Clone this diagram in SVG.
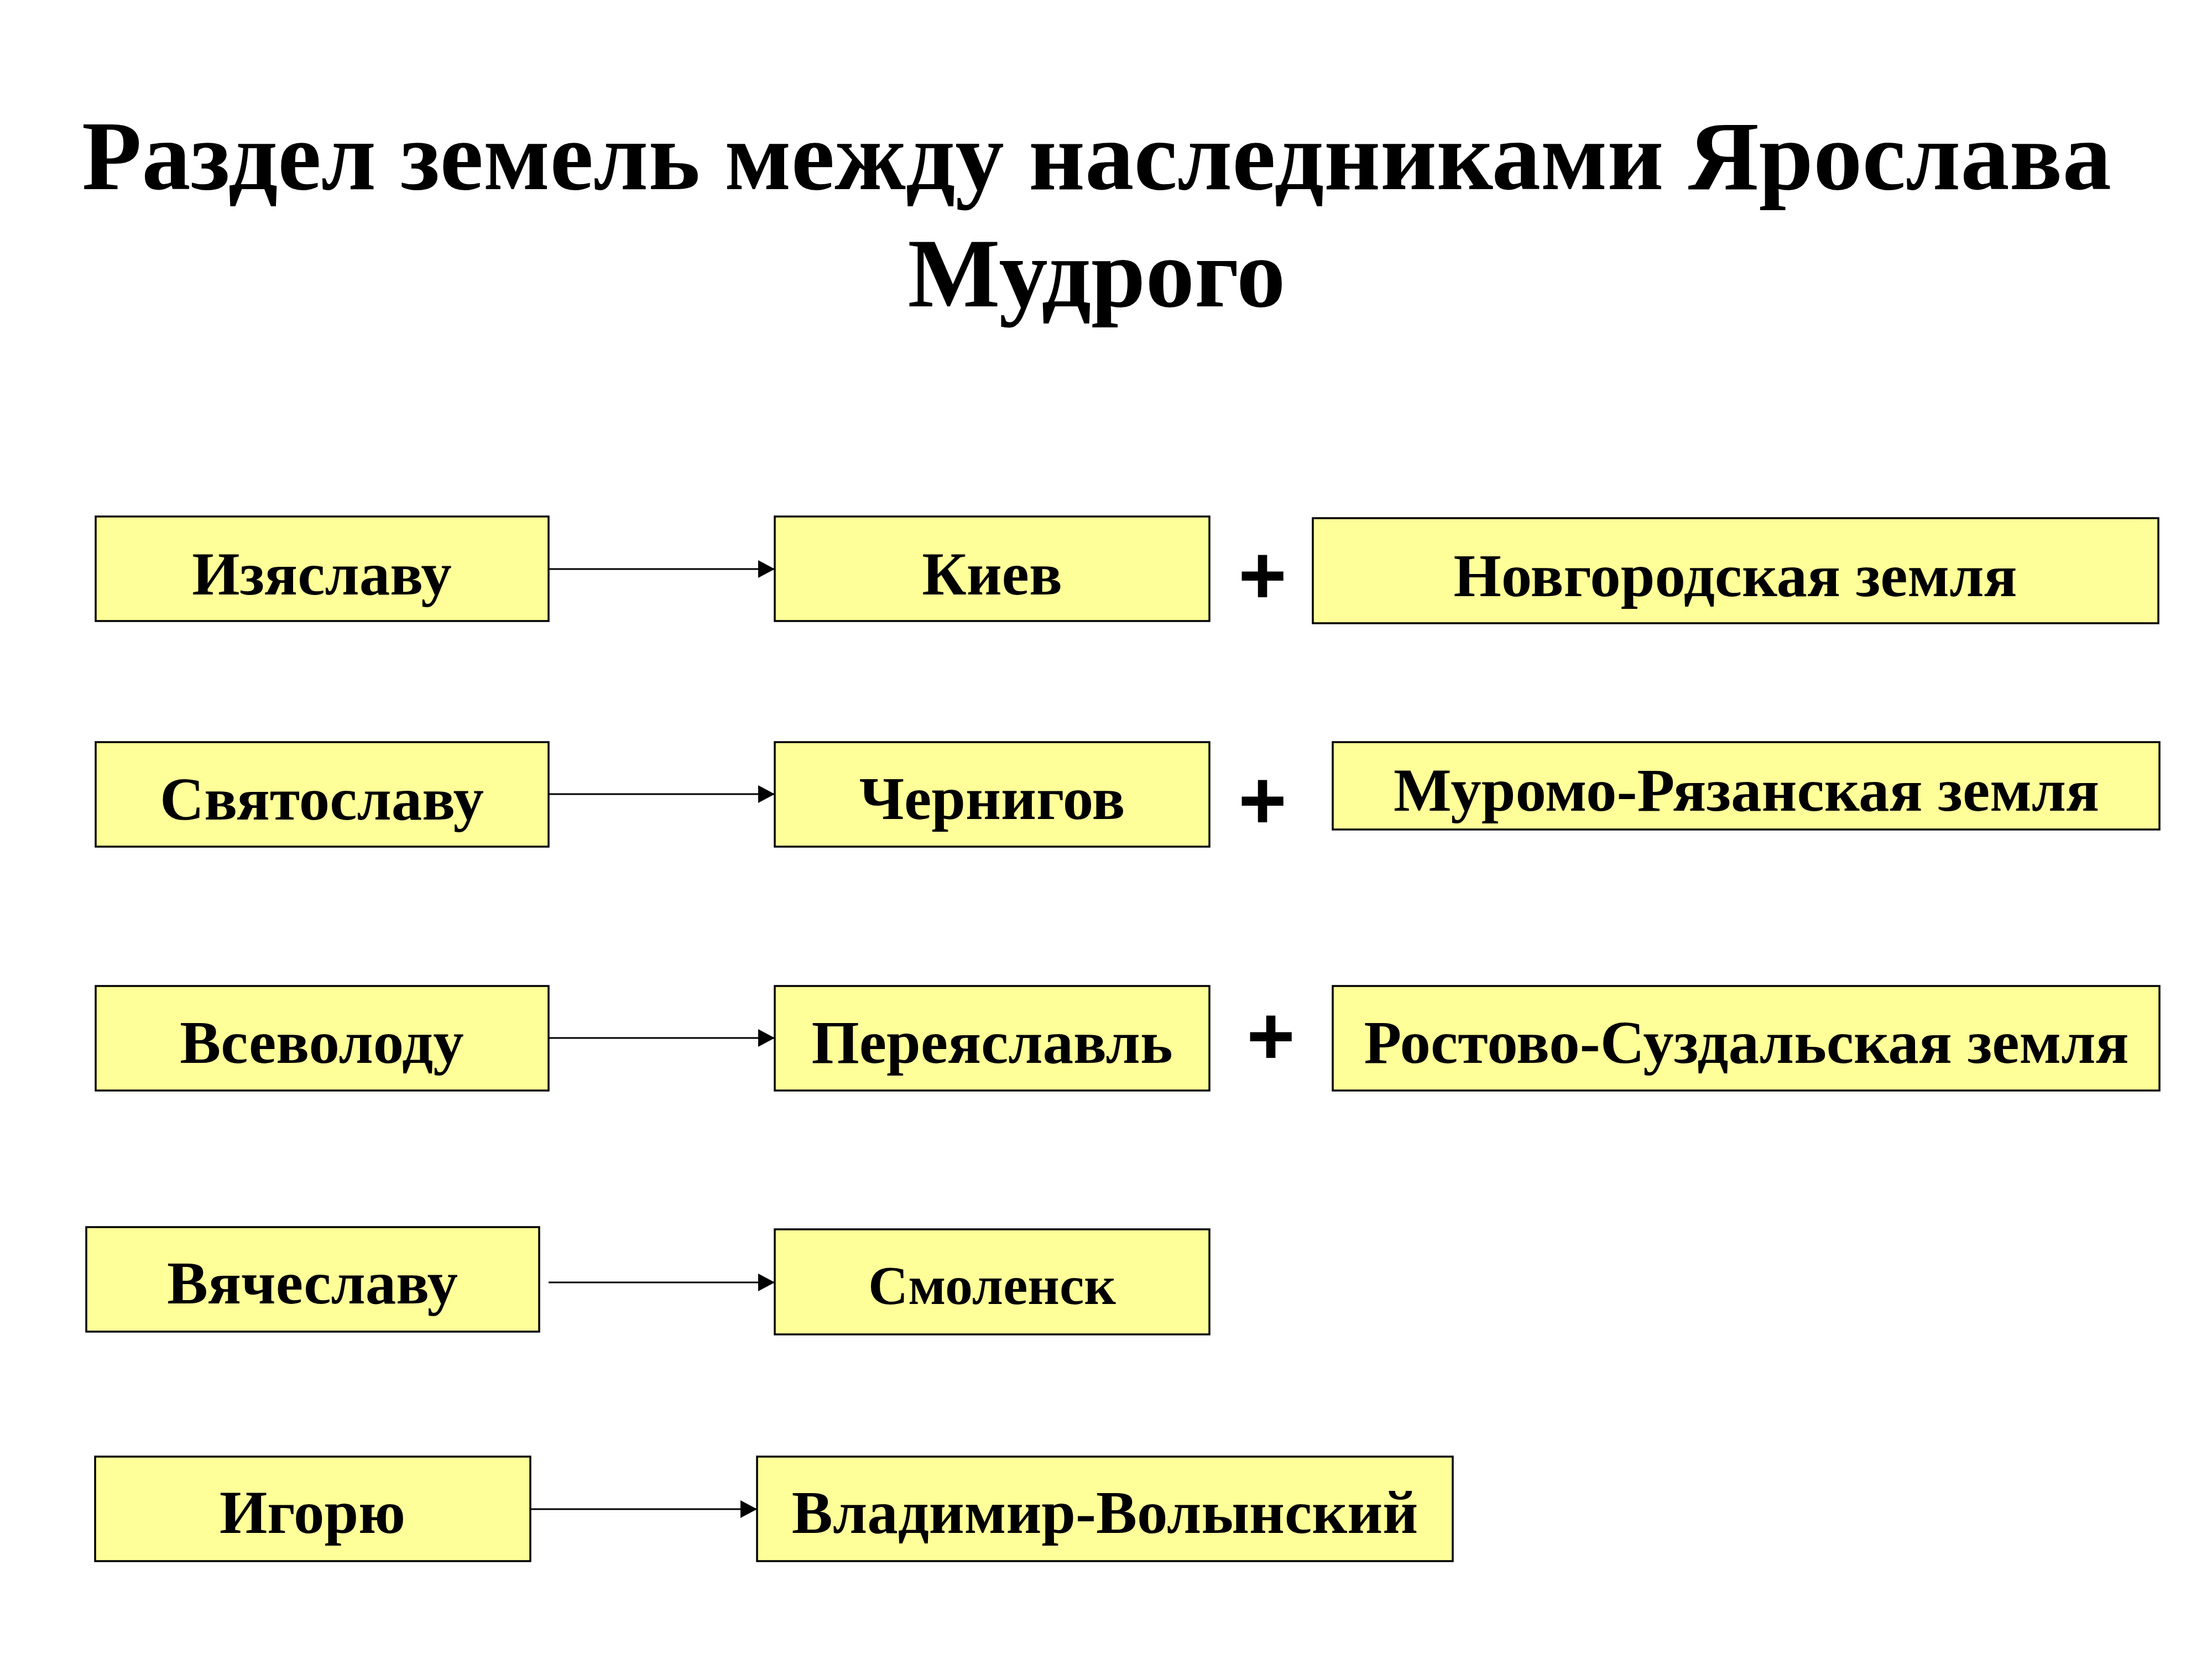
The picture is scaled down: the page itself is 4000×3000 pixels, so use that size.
<svg xmlns="http://www.w3.org/2000/svg" width="4000" height="3000" viewBox="0 0 4000 3000">
<style>
.box{fill:#FFFF99;stroke:#000;stroke-width:3.5}
.t{font-family:"Liberation Serif","Times New Roman",serif;font-weight:bold;font-size:111px;text-anchor:middle;fill:#000}
.title{font-family:"Liberation Serif","Times New Roman",serif;font-weight:bold;font-size:177px;text-anchor:middle;fill:#000}
.plus{font-family:"Liberation Sans",Arial,sans-serif;font-weight:bold;font-size:150px;text-anchor:middle;fill:#000}
.c{stroke:#000;stroke-width:3;fill:none;marker-end:url(#ah)}
</style>
<defs>
<marker id="ah" markerUnits="userSpaceOnUse" markerWidth="32" markerHeight="32" refX="30" refY="16" orient="auto">
<path d="M0,0 L30,16 L0,32 Z" fill="#000"/>
</marker>
</defs>
<rect width="4000" height="3000" fill="#fff"/>
<g id="title">
<text class="title" x="1983" y="342">Раздел земель между наследниками Ярослава</text>
<text class="title" x="1983" y="554">Мудрого</text>
</g>
<g id="connectors">
<line class="c" x1="992" y1="1029" x2="1401" y2="1029"/>
<line class="c" x1="992" y1="1436" x2="1401" y2="1436"/>
<line class="c" x1="992" y1="1877" x2="1401" y2="1877"/>
<line class="c" x1="992" y1="2319" x2="1401" y2="2319"/>
<line class="c" x1="959" y1="2729" x2="1369" y2="2729"/>
</g>
<g id="n-izyaslav"><rect class="box" x="173" y="934" width="819" height="189"/><text class="t" x="582" y="1075">Изяславу</text></g>
<g id="n-kiev"><rect class="box" x="1401" y="934" width="786" height="189"/><text class="t" x="1794" y="1075">Киев</text></g>
<g id="plus1"><text class="plus" x="2283" y="1092">+</text></g>
<g id="n-novgorod"><rect class="box" x="2374" y="937" width="1529" height="190"/><text class="t" x="3138" y="1078">Новгородская земля</text></g>

<g id="n-svyatoslav"><rect class="box" x="173" y="1342" width="819" height="189"/><text class="t" x="582" y="1482">Святославу</text></g>
<g id="n-chernigov"><rect class="box" x="1401" y="1342" width="786" height="189"/><text class="t" x="1794" y="1481">Чернигов</text></g>
<g id="plus2"><text class="plus" x="2283" y="1499">+</text></g>
<g id="n-murom"><rect class="box" x="2410" y="1342" width="1495" height="158"/><text class="t" x="3158" y="1466">Муромо-Рязанская земля</text></g>

<g id="n-vsevolod"><rect class="box" x="173" y="1783" width="819" height="189"/><text class="t" x="582" y="1922">Всеволоду</text></g>
<g id="n-pereyaslavl"><rect class="box" x="1401" y="1783" width="786" height="189"/><text class="t" x="1794" y="1922">Переяславль</text></g>
<g id="plus3"><text class="plus" x="2298" y="1925">+</text></g>
<g id="n-rostov"><rect class="box" x="2410" y="1783" width="1495" height="189"/><text class="t" x="3158" y="1922">Ростово-Суздальская земля</text></g>

<g id="n-vyacheslav"><rect class="box" x="156" y="2219" width="819" height="189"/><text class="t" x="565" y="2357">Вячеславу</text></g>
<g id="n-smolensk"><rect class="box" x="1401" y="2223" width="786" height="190"/><text class="t" x="1794" y="2358" style="font-size:100px">Смоленск</text></g>

<g id="n-igor"><rect class="box" x="172" y="2634" width="787" height="189"/><text class="t" x="565" y="2772">Игорю</text></g>
<g id="n-vladimir"><rect class="box" x="1369" y="2634" width="1258" height="189"/><text class="t" x="1998" y="2772">Владимир-Волынский</text></g>
</svg>
